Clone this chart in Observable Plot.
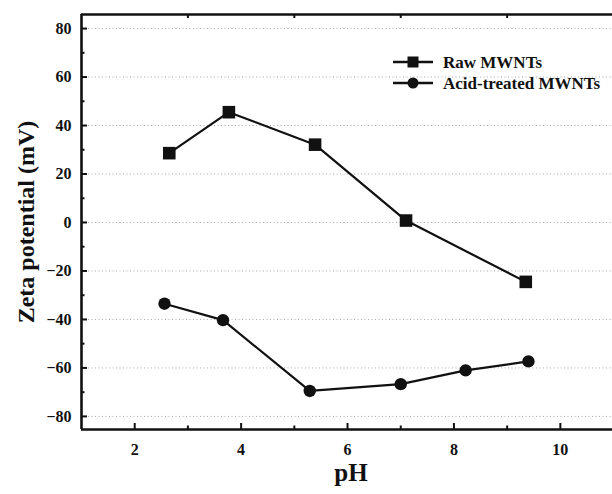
<!DOCTYPE html>
<html><head><meta charset="utf-8">
<script src="https://cdn.jsdelivr.net/npm/d3@7"></script>
<script src="https://cdn.jsdelivr.net/npm/@observablehq/plot@0.6"></script>
<style>
body{margin:0;background:#fff;}
#wrap{position:relative;width:612px;height:494px;overflow:hidden;}
#legend{position:absolute;left:0;top:0;}
</style></head><body><div id="wrap"></div>
<script>
const rawPH = [2.65, 3.77, 5.39, 7.10, 9.35];
const rawZeta = [28.6, 45.5, 32.1, 0.8, -24.5];
const acidPH = [2.56, 3.66, 5.29, 7.00, 8.22, 9.40];
const acidZeta = [-33.5, -40.3, -69.5, -66.7, -61.0, -57.3];
const xTicks = [2, 4, 6, 8, 10];
const xMinor = [3, 5, 7, 9];
const yTicks = [-80, -60, -40, -20, 0, 20, 40, 60, 80];
const yMinor = [-70, -50, -30, -10, 10, 30, 50, 70];
const seriesNames = ["Raw MWNTs", "Acid-treated MWNTs"];
const xTitle = "pH";
const yTitle = "Zeta potential (mV)";

const raw = rawPH.map((x, i) => ({x, y: rawZeta[i]}));
const acid = acidPH.map((x, i) => ({x, y: acidZeta[i]}));
const xDom = [1.0, 10.98];
const yDom = [-85.4, 85.8];
const FONT = "'Liberation Serif', 'Times New Roman', serif";
const W = 612, H = 494, ML = 81, MR = 0, MT = 14, MB = 65;
const FW = W - ML - MR, FH = H - MT - MB;

const chart = Plot.plot({
  width: W, height: H,
  marginLeft: ML, marginRight: MR, marginTop: MT, marginBottom: MB,
  style: {fontFamily: FONT, fontWeight: "bold", fontSize: "16px", color: "#111", background: "#fff"},
  x: {domain: xDom},
  y: {domain: yDom},
  marks: [
    Plot.gridY(yTicks, {stroke: "#aaa", strokeOpacity: 1, strokeDasharray: "1,2.5", strokeWidth: 1}),
    // inward ticks
    Plot.ruleX(xTicks, {insetTop: FH - 6, stroke: "#111", strokeWidth: 2}),
    Plot.ruleX(xMinor, {insetTop: FH - 3.5, stroke: "#111", strokeWidth: 2}),
    Plot.ruleX(xMinor, {insetBottom: FH - 4, stroke: "#111", strokeWidth: 2}),
    Plot.ruleY(yTicks, {insetRight: FW - 6, stroke: "#111", strokeWidth: 2}),
    Plot.ruleY(yMinor, {insetRight: FW - 3.5, stroke: "#111", strokeWidth: 2}),
    // frame
    Plot.ruleY([yDom[0]], {stroke: "#111", strokeWidth: 2.6}),
    Plot.ruleY([yDom[1]], {stroke: "#111", strokeWidth: 2.6}),
    Plot.ruleX([xDom[0]], {stroke: "#111", strokeWidth: 2.6}),
    Plot.axisX({ticks: xTicks, tickSize: 0, tickPadding: 14, label: null, fontSize: 16}),
    Plot.axisY({ticks: yTicks, tickSize: 0, tickPadding: 10, label: null, fontSize: 16}),
    Plot.line(raw, {x: "x", y: "y", stroke: "#111", strokeWidth: 2.2}),
    Plot.line(acid, {x: "x", y: "y", stroke: "#111", strokeWidth: 2.2}),
    Plot.dot(raw, {x: "x", y: "y", symbol: "square", r: 7.1, fill: "#111", stroke: "none"}),
    Plot.dot(acid, {x: "x", y: "y", symbol: "circle", r: 6.2, fill: "#111", stroke: "none"}),
    Plot.text([xTitle], {frameAnchor: "bottom", textAnchor: "middle", dy: 51, dx: 4, fontSize: 25, fontWeight: "bold"}),
    Plot.text([yTitle], {frameAnchor: "left", textAnchor: "middle", rotate: -90, dx: -55, fontSize: 24, fontWeight: "bold"})
  ]
});
const wrap = document.getElementById("wrap");
wrap.appendChild(chart);

// legend
const ns = "http://www.w3.org/2000/svg";
const leg = document.createElementNS(ns, "svg");
leg.setAttribute("id", "legend");
leg.setAttribute("width", W); leg.setAttribute("height", H);
const rows = [62, 83];
seriesNames.forEach((name, i) => {
  const y = rows[i];
  const l = document.createElementNS(ns, "line");
  l.setAttribute("x1", 393); l.setAttribute("x2", 433); l.setAttribute("y1", y); l.setAttribute("y2", y);
  l.setAttribute("stroke", "#111"); l.setAttribute("stroke-width", 2.4);
  leg.appendChild(l);
  if (i === 0) {
    const r = document.createElementNS(ns, "rect");
    r.setAttribute("x", 413 - 5.5); r.setAttribute("y", y - 5.5); r.setAttribute("width", 11); r.setAttribute("height", 11);
    r.setAttribute("fill", "#111"); leg.appendChild(r);
  } else {
    const c = document.createElementNS(ns, "circle");
    c.setAttribute("cx", 413); c.setAttribute("cy", y); c.setAttribute("r", 5.5);
    c.setAttribute("fill", "#111"); leg.appendChild(c);
  }
  const t = document.createElementNS(ns, "text");
  t.setAttribute("x", 443); t.setAttribute("y", y + 5.5);
  t.setAttribute("font-family", FONT); t.setAttribute("font-weight", "bold"); t.setAttribute("font-size", "17px");
  t.setAttribute("fill", "#111");
  t.textContent = name;
  leg.appendChild(t);
});
wrap.appendChild(leg);
</script></body></html>
